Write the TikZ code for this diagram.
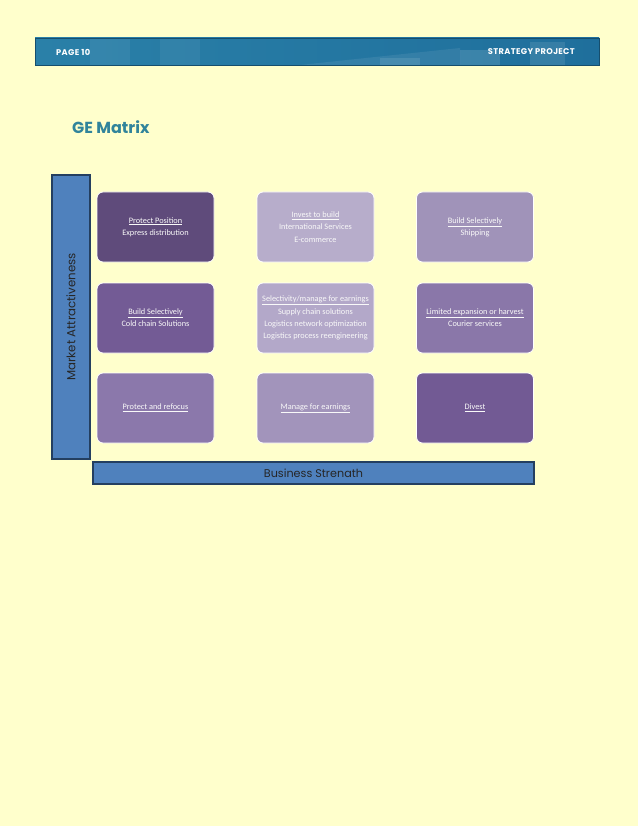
\documentclass[tikz,border=0pt]{standalone}
\usepackage{fontspec}
\setmainfont{Carlito}
\newfontfamily\geo{Poppins}
\newfontfamily\geohdr[LetterSpace=4]{Poppins}
\definecolor{bg}{HTML}{FFFFCC}
\definecolor{hdrA}{HTML}{1F6F9C}
\definecolor{hdrB}{HTML}{2A80A8}
\definecolor{ttl}{HTML}{31849B}
\definecolor{barblue}{HTML}{4F81BD}
\definecolor{bardark}{HTML}{243F60}
\definecolor{cA}{HTML}{5F4B7B}
\definecolor{cB}{HTML}{B7ADCB}
\definecolor{cC}{HTML}{A093B9}
\definecolor{cD}{HTML}{735B95}
\definecolor{cE}{HTML}{B3A8C9}
\definecolor{cF}{HTML}{8A77A9}
\definecolor{cG}{HTML}{8B78AB}
\definecolor{cH}{HTML}{A294BB}
\definecolor{cI}{HTML}{725A94}
\tikzset{
  cell/.style={draw=white, line width=0.8pt, rounded corners=6pt,
    minimum width=117pt, minimum height=70pt, inner sep=2pt,
    text=white!95!gray, align=center,
    font=\fontsize{8.3}{12.2}\selectfont},
  axisbar/.style={draw=bardark, line width=1.6pt, fill=barblue,
    text=black!85, inner sep=0pt},
  hdrtext/.style={text=white, font=\geohdr\bfseries\fontsize{8.3}{9}\selectfont, inner sep=0pt}
}
\begin{document}
\begin{tikzpicture}[x=1pt,y=-1pt]
\fill[bg] (0,0) rectangle (638,826);
\useasboundingbox (0,0) rectangle (638,826);
% header bar
\shade[left color=hdrB, right color=hdrA] (35,38) rectangle (599,65);
\fill[white, opacity=0.06] (90,38) rectangle (130,65);
\fill[white, opacity=0.05] (160,38) rectangle (200,65);
\fill[white, opacity=0.08] (300,65) -- (460,48) -- (460,65) -- cycle;
\fill[white, opacity=0.10] (380,58) rectangle (420,65);
\fill[white, opacity=0.12] (460,50) rectangle (500,65);
\fill[white, opacity=0.10] (530,42) rectangle (565,65);
\draw[hdrA!70!black, line width=0.6pt] (35,38) rectangle (599,65);
\node[hdrtext, anchor=west] (page) at (56,52) {PAGE 10};
\node[hdrtext, anchor=east] (proj) at (575,52) {STRATEGY PROJECT};
% title
\node[anchor=west, text=ttl, font=\geo\bfseries\fontsize{16}{18}\selectfont, inner sep=0pt] (title) at (72,127) {GE Matrix};
% axis bars
\node[axisbar, rotate=90, minimum width=284pt, minimum height=38pt, font=\geo\fontsize{11.8}{13}\selectfont] (ma) at (71,317) {Market Attractiveness};
\node[axisbar, minimum width=441pt, minimum height=22pt, font=\geo\fontsize{11.2}{13}\selectfont] (bs) at (313.5,473) {Business Strenath};
% cells
\node[cell, fill=cA] (c11) at (155.5,227) {\underline{Protect Position}\\Express distribution};
\node[cell, fill=cB] (c12) at (315.5,227) {\underline{Invest to build}\\International Services\\E-commerce};
\node[cell, fill=cC] (c13) at (475,227) {\underline{Build Selectively}\\Shipping};
\node[cell, fill=cD] (c21) at (155.5,318) {\underline{Build Selectively}\\Cold chain Solutions};
\node[cell, fill=cE] (c22) at (315.5,318) {\underline{Selectivity/manage for earnings}\\Supply chain solutions\\Logistics network optimization\\Logistics process reengineering};
\node[cell, fill=cF] (c23) at (475,318) {\underline{Limited expansion or harvest}\\Courier services};
\node[cell, fill=cG] (c31) at (155.5,408) {\underline{Protect and refocus}};
\node[cell, fill=cH] (c32) at (315.5,408) {\underline{Manage for earnings}};
\node[cell, fill=cI] (c33) at (475,408) {\underline{Divest}};
\end{tikzpicture}
\end{document}
